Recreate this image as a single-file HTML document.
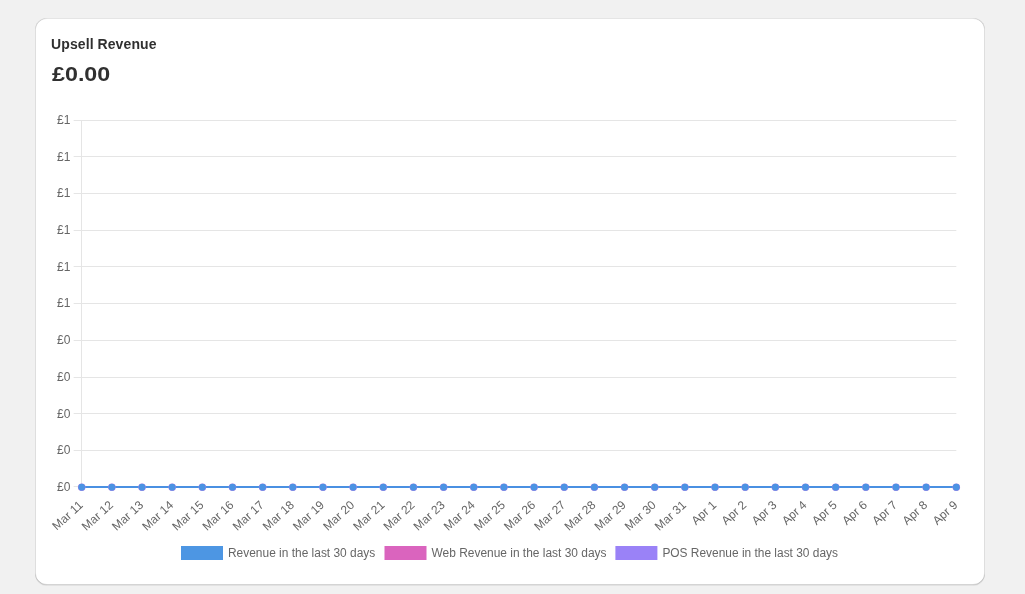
<!DOCTYPE html>
<html><head><meta charset="utf-8"><title>Upsell Revenue</title>
<style>
html,body{margin:0;padding:0;}
body{width:1025px;height:594px;background:#f1f1f1;position:relative;overflow:hidden;font-family:"Liberation Sans",sans-serif;}
.card{position:absolute;left:35px;top:18px;width:950px;height:567px;background:#fff;border-radius:12px;box-shadow:inset 1px 0 0 0 rgba(0,0,0,.13),inset -1px 0 0 0 rgba(0,0,0,.13),inset 0 -1px 0 0 rgba(0,0,0,.17),inset 0 1px 0 0 rgba(204,204,204,.5),0 1px 0 0 rgba(26,26,26,.07);}
.t1,.t2{will-change:transform;}
.t1{position:absolute;left:50.5px;top:34px;font-weight:bold;font-size:14px;letter-spacing:0.14px;word-spacing:-0.5px;line-height:20px;color:#303030;white-space:nowrap;}
.t2{position:absolute;left:51.5px;top:62px;font-weight:bold;font-size:20.5px;letter-spacing:0;transform:scaleX(1.135);transform-origin:0 0;line-height:24px;color:#303030;white-space:nowrap;}
</style></head><body>
<div class="card"></div>
<div class="t1">Upsell Revenue</div>
<div class="t2">£0.00</div>
<svg width="1025" height="594" viewBox="0 0 1025 594" style="position:absolute;left:0;top:0;will-change:transform" font-family="Liberation Sans, sans-serif" font-size="12" fill="#666">
<line x1="73.66" y1="120.5" x2="956.33" y2="120.5" stroke="#e5e5e5" stroke-width="1"/>
<text x="70.4" y="124" text-anchor="end">£1</text>
<line x1="73.66" y1="156.5" x2="956.33" y2="156.5" stroke="#e5e5e5" stroke-width="1"/>
<text x="70.4" y="161" text-anchor="end">£1</text>
<line x1="73.66" y1="193.5" x2="956.33" y2="193.5" stroke="#e5e5e5" stroke-width="1"/>
<text x="70.4" y="197" text-anchor="end">£1</text>
<line x1="73.66" y1="230.5" x2="956.33" y2="230.5" stroke="#e5e5e5" stroke-width="1"/>
<text x="70.4" y="234" text-anchor="end">£1</text>
<line x1="73.66" y1="266.5" x2="956.33" y2="266.5" stroke="#e5e5e5" stroke-width="1"/>
<text x="70.4" y="271" text-anchor="end">£1</text>
<line x1="73.66" y1="303.5" x2="956.33" y2="303.5" stroke="#e5e5e5" stroke-width="1"/>
<text x="70.4" y="307" text-anchor="end">£1</text>
<line x1="73.66" y1="340.5" x2="956.33" y2="340.5" stroke="#e5e5e5" stroke-width="1"/>
<text x="70.4" y="344" text-anchor="end">£0</text>
<line x1="73.66" y1="377.5" x2="956.33" y2="377.5" stroke="#e5e5e5" stroke-width="1"/>
<text x="70.4" y="381" text-anchor="end">£0</text>
<line x1="73.66" y1="413.5" x2="956.33" y2="413.5" stroke="#e5e5e5" stroke-width="1"/>
<text x="70.4" y="418" text-anchor="end">£0</text>
<line x1="73.66" y1="450.5" x2="956.33" y2="450.5" stroke="#e5e5e5" stroke-width="1"/>
<text x="70.4" y="454" text-anchor="end">£0</text>
<line x1="73.66" y1="486.5" x2="956.33" y2="486.5" stroke="#e5e5e5" stroke-width="1"/>
<text x="70.4" y="491" text-anchor="end">£0</text>
<line x1="81.5" y1="120" x2="81.5" y2="487" stroke="#e5e5e5" stroke-width="1"/>
<line x1="81.7" y1="487.1" x2="956.3" y2="487.1" stroke="#9880f6" stroke-width="2"/>
<line x1="81.7" y1="487.1" x2="956.3" y2="487.1" stroke="#da62be" stroke-width="2"/>
<line x1="81.7" y1="487.1" x2="956.3" y2="487.1" stroke="#4a90e2" stroke-width="2"/>
<circle cx="81.70" cy="487.15" r="3.75" fill="#a97fe6"/>
<circle cx="81.70" cy="487.15" r="3.35" fill="#4b93e3"/>
<circle cx="111.86" cy="487.15" r="3.75" fill="#a97fe6"/>
<circle cx="111.86" cy="487.15" r="3.35" fill="#4b93e3"/>
<circle cx="142.02" cy="487.15" r="3.75" fill="#a97fe6"/>
<circle cx="142.02" cy="487.15" r="3.35" fill="#4b93e3"/>
<circle cx="172.18" cy="487.15" r="3.75" fill="#a97fe6"/>
<circle cx="172.18" cy="487.15" r="3.35" fill="#4b93e3"/>
<circle cx="202.33" cy="487.15" r="3.75" fill="#a97fe6"/>
<circle cx="202.33" cy="487.15" r="3.35" fill="#4b93e3"/>
<circle cx="232.49" cy="487.15" r="3.75" fill="#a97fe6"/>
<circle cx="232.49" cy="487.15" r="3.35" fill="#4b93e3"/>
<circle cx="262.65" cy="487.15" r="3.75" fill="#a97fe6"/>
<circle cx="262.65" cy="487.15" r="3.35" fill="#4b93e3"/>
<circle cx="292.81" cy="487.15" r="3.75" fill="#a97fe6"/>
<circle cx="292.81" cy="487.15" r="3.35" fill="#4b93e3"/>
<circle cx="322.97" cy="487.15" r="3.75" fill="#a97fe6"/>
<circle cx="322.97" cy="487.15" r="3.35" fill="#4b93e3"/>
<circle cx="353.13" cy="487.15" r="3.75" fill="#a97fe6"/>
<circle cx="353.13" cy="487.15" r="3.35" fill="#4b93e3"/>
<circle cx="383.29" cy="487.15" r="3.75" fill="#a97fe6"/>
<circle cx="383.29" cy="487.15" r="3.35" fill="#4b93e3"/>
<circle cx="413.44" cy="487.15" r="3.75" fill="#a97fe6"/>
<circle cx="413.44" cy="487.15" r="3.35" fill="#4b93e3"/>
<circle cx="443.60" cy="487.15" r="3.75" fill="#a97fe6"/>
<circle cx="443.60" cy="487.15" r="3.35" fill="#4b93e3"/>
<circle cx="473.76" cy="487.15" r="3.75" fill="#a97fe6"/>
<circle cx="473.76" cy="487.15" r="3.35" fill="#4b93e3"/>
<circle cx="503.92" cy="487.15" r="3.75" fill="#a97fe6"/>
<circle cx="503.92" cy="487.15" r="3.35" fill="#4b93e3"/>
<circle cx="534.08" cy="487.15" r="3.75" fill="#a97fe6"/>
<circle cx="534.08" cy="487.15" r="3.35" fill="#4b93e3"/>
<circle cx="564.24" cy="487.15" r="3.75" fill="#a97fe6"/>
<circle cx="564.24" cy="487.15" r="3.35" fill="#4b93e3"/>
<circle cx="594.40" cy="487.15" r="3.75" fill="#a97fe6"/>
<circle cx="594.40" cy="487.15" r="3.35" fill="#4b93e3"/>
<circle cx="624.56" cy="487.15" r="3.75" fill="#a97fe6"/>
<circle cx="624.56" cy="487.15" r="3.35" fill="#4b93e3"/>
<circle cx="654.71" cy="487.15" r="3.75" fill="#a97fe6"/>
<circle cx="654.71" cy="487.15" r="3.35" fill="#4b93e3"/>
<circle cx="684.87" cy="487.15" r="3.75" fill="#a97fe6"/>
<circle cx="684.87" cy="487.15" r="3.35" fill="#4b93e3"/>
<circle cx="715.03" cy="487.15" r="3.75" fill="#a97fe6"/>
<circle cx="715.03" cy="487.15" r="3.35" fill="#4b93e3"/>
<circle cx="745.19" cy="487.15" r="3.75" fill="#a97fe6"/>
<circle cx="745.19" cy="487.15" r="3.35" fill="#4b93e3"/>
<circle cx="775.35" cy="487.15" r="3.75" fill="#a97fe6"/>
<circle cx="775.35" cy="487.15" r="3.35" fill="#4b93e3"/>
<circle cx="805.51" cy="487.15" r="3.75" fill="#a97fe6"/>
<circle cx="805.51" cy="487.15" r="3.35" fill="#4b93e3"/>
<circle cx="835.67" cy="487.15" r="3.75" fill="#a97fe6"/>
<circle cx="835.67" cy="487.15" r="3.35" fill="#4b93e3"/>
<circle cx="865.82" cy="487.15" r="3.75" fill="#a97fe6"/>
<circle cx="865.82" cy="487.15" r="3.35" fill="#4b93e3"/>
<circle cx="895.98" cy="487.15" r="3.75" fill="#a97fe6"/>
<circle cx="895.98" cy="487.15" r="3.35" fill="#4b93e3"/>
<circle cx="926.14" cy="487.15" r="3.75" fill="#a97fe6"/>
<circle cx="926.14" cy="487.15" r="3.35" fill="#4b93e3"/>
<circle cx="956.30" cy="487.15" r="3.75" fill="#a97fe6"/>
<circle cx="956.30" cy="487.15" r="3.35" fill="#4b93e3"/>
<text transform="translate(80.90,503.00) rotate(-42.5)" text-anchor="end" dy="0.35em">Mar 11</text>
<text transform="translate(111.06,503.00) rotate(-42.5)" text-anchor="end" dy="0.35em">Mar 12</text>
<text transform="translate(141.22,503.00) rotate(-42.5)" text-anchor="end" dy="0.35em">Mar 13</text>
<text transform="translate(171.38,503.00) rotate(-42.5)" text-anchor="end" dy="0.35em">Mar 14</text>
<text transform="translate(201.53,503.00) rotate(-42.5)" text-anchor="end" dy="0.35em">Mar 15</text>
<text transform="translate(231.69,503.00) rotate(-42.5)" text-anchor="end" dy="0.35em">Mar 16</text>
<text transform="translate(261.85,503.00) rotate(-42.5)" text-anchor="end" dy="0.35em">Mar 17</text>
<text transform="translate(292.01,503.00) rotate(-42.5)" text-anchor="end" dy="0.35em">Mar 18</text>
<text transform="translate(322.17,503.00) rotate(-42.5)" text-anchor="end" dy="0.35em">Mar 19</text>
<text transform="translate(352.33,503.00) rotate(-42.5)" text-anchor="end" dy="0.35em">Mar 20</text>
<text transform="translate(382.49,503.00) rotate(-42.5)" text-anchor="end" dy="0.35em">Mar 21</text>
<text transform="translate(412.64,503.00) rotate(-42.5)" text-anchor="end" dy="0.35em">Mar 22</text>
<text transform="translate(442.80,503.00) rotate(-42.5)" text-anchor="end" dy="0.35em">Mar 23</text>
<text transform="translate(472.96,503.00) rotate(-42.5)" text-anchor="end" dy="0.35em">Mar 24</text>
<text transform="translate(503.12,503.00) rotate(-42.5)" text-anchor="end" dy="0.35em">Mar 25</text>
<text transform="translate(533.28,503.00) rotate(-42.5)" text-anchor="end" dy="0.35em">Mar 26</text>
<text transform="translate(563.44,503.00) rotate(-42.5)" text-anchor="end" dy="0.35em">Mar 27</text>
<text transform="translate(593.60,503.00) rotate(-42.5)" text-anchor="end" dy="0.35em">Mar 28</text>
<text transform="translate(623.76,503.00) rotate(-42.5)" text-anchor="end" dy="0.35em">Mar 29</text>
<text transform="translate(653.91,503.00) rotate(-42.5)" text-anchor="end" dy="0.35em">Mar 30</text>
<text transform="translate(684.07,503.00) rotate(-42.5)" text-anchor="end" dy="0.35em">Mar 31</text>
<text transform="translate(714.23,503.00) rotate(-42.5)" text-anchor="end" dy="0.35em">Apr 1</text>
<text transform="translate(744.39,503.00) rotate(-42.5)" text-anchor="end" dy="0.35em">Apr 2</text>
<text transform="translate(774.55,503.00) rotate(-42.5)" text-anchor="end" dy="0.35em">Apr 3</text>
<text transform="translate(804.71,503.00) rotate(-42.5)" text-anchor="end" dy="0.35em">Apr 4</text>
<text transform="translate(834.87,503.00) rotate(-42.5)" text-anchor="end" dy="0.35em">Apr 5</text>
<text transform="translate(865.02,503.00) rotate(-42.5)" text-anchor="end" dy="0.35em">Apr 6</text>
<text transform="translate(895.18,503.00) rotate(-42.5)" text-anchor="end" dy="0.35em">Apr 7</text>
<text transform="translate(925.34,503.00) rotate(-42.5)" text-anchor="end" dy="0.35em">Apr 8</text>
<text transform="translate(955.50,503.00) rotate(-42.5)" text-anchor="end" dy="0.35em">Apr 9</text>
<rect x="181" y="546" width="42" height="14" fill="#4d96e3"/>
<text x="228" y="557" textLength="147.3" lengthAdjust="spacingAndGlyphs">Revenue in the last 30 days</text>
<rect x="384.5" y="546" width="42" height="14" fill="#da64be"/>
<text x="431.5" y="557" textLength="175" lengthAdjust="spacingAndGlyphs">Web Revenue in the last 30 days</text>
<rect x="615.4" y="546" width="42" height="14" fill="#9a82f7"/>
<text x="662.4" y="557" textLength="175.6" lengthAdjust="spacingAndGlyphs">POS Revenue in the last 30 days</text>
</svg>
</body></html>
